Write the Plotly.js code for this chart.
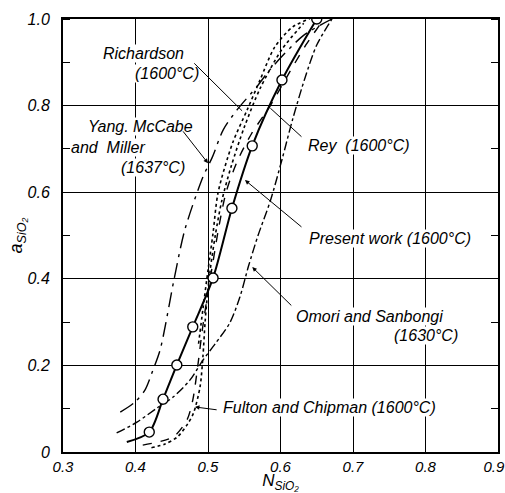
<!DOCTYPE html>
<html><head><meta charset="utf-8">
<script src="https://cdn.plot.ly/plotly-3.0.1.min.js"></script>
<style>body{margin:0;background:#fff}#c{width:505px;height:493px}</style>
</head><body><div id="c"></div>
<script>
// Present work (1600°C): measured points (circles) and the drawn curve
const presentX = [0.419, 0.438, 0.457, 0.479, 0.507, 0.533, 0.561, 0.602, 0.650];
const presentY = [0.046, 0.122, 0.201, 0.289, 0.402, 0.563, 0.707, 0.859, 1.000];
const presentLineX = [0.388, 0.419, 0.438, 0.457, 0.479, 0.507, 0.533, 0.561, 0.602, 0.650];
const presentLineY = [0.023, 0.046, 0.122, 0.201, 0.289, 0.402, 0.563, 0.707, 0.859, 1.000];
// Yang, McCabe and Miller (1637°C)
const yangX = [0.379, 0.399, 0.413, 0.424, 0.434, 0.453, 0.468, 0.493, 0.506, 0.521, 0.540, 0.568, 0.585, 0.631, 0.671];
const yangY = [0.092, 0.115, 0.143, 0.189, 0.236, 0.397, 0.513, 0.635, 0.681, 0.744, 0.790, 0.845, 0.882, 0.961, 1.000];
// Omori and Sanbongi (1630°C)
const omoriX = [0.374, 0.402, 0.430, 0.452, 0.475, 0.493, 0.510, 0.530, 0.544, 0.556, 0.569, 0.586, 0.602, 0.617, 0.634, 0.650, 0.671];
const omoriY = [0.044, 0.069, 0.102, 0.127, 0.166, 0.212, 0.250, 0.298, 0.358, 0.430, 0.500, 0.580, 0.675, 0.770, 0.865, 0.940, 1.000];
// Richardson (1600°C)
const richX = [0.487, 0.493, 0.500, 0.507, 0.514, 0.534, 0.554, 0.572, 0.592, 0.617, 0.640];
const richY = [0.250, 0.330, 0.420, 0.506, 0.600, 0.714, 0.790, 0.860, 0.935, 0.982, 1.000];
// Fulton and Chipman (1600°C)
const fultonX = [0.422, 0.440, 0.458, 0.472, 0.480, 0.489, 0.493, 0.496, 0.499, 0.503, 0.510, 0.519, 0.532, 0.550, 0.572, 0.602, 0.632];
const fultonY = [0.010, 0.018, 0.035, 0.065, 0.090, 0.150, 0.220, 0.300, 0.360, 0.420, 0.500, 0.580, 0.660, 0.750, 0.840, 0.930, 0.990];
// Rey (1600°C)
const reyX = [0.410, 0.452, 0.471, 0.479, 0.486, 0.492, 0.500, 0.507, 0.515, 0.525, 0.540, 0.560, 0.586, 0.610, 0.635, 0.660];
const reyY = [0.016, 0.035, 0.074, 0.120, 0.200, 0.280, 0.370, 0.440, 0.520, 0.600, 0.670, 0.735, 0.800, 0.870, 0.940, 1.000];

const xTicks = [0.3, 0.4, 0.5, 0.6, 0.7, 0.8, 0.9];
const xTickText = ['0.3', '0.4', '0.5', '0.6', '0.7', '0.8', '0.9\u00a0\u00a0'];
const yTicks = [0, 0.2, 0.4, 0.6, 0.8, 1.0];
const yTickText = ['0', '0.2', '0.4', '0.6', '0.8', '1.0'];

const FONT = 'Liberation Sans, Arial, sans-serif';
function line(x, y, dash, w) {
  return {x: x, y: y, type: 'scatter', mode: 'lines', hoverinfo: 'skip',
    line: {color: 'black', width: w, dash: dash, shape: 'spline', smoothing: 0.8}};
}
const traces = [
  line(yangX, yangY, 'longdashdot', 1.4),
  line(omoriX, omoriY, 'dashdot', 1.4),
  line(richX, richY, 'dot', 1.6),
  line(fultonX, fultonY, 'dot', 1.6),
  line(reyX, reyY, 'dash', 1.4),
  line(presentLineX, presentLineY, 'solid', 2),
  {x: presentX, y: presentY, type: 'scatter', mode: 'markers', hoverinfo: 'skip',
   marker: {symbol: 'circle', size: 10, color: 'white', line: {color: 'black', width: 1.4}}}
];

function label(text, x, y) {
  return {text: text, x: x, y: y, xref: 'x', yref: 'y', xanchor: 'left', yanchor: 'middle',
    showarrow: false, bgcolor: 'white', borderpad: 0,
    font: {family: FONT, size: 16, style: 'italic', color: 'black'}};
}
function pointer(x0, y0, x1, y1, head) {
  return {text: '', x: x1, y: y1, ax: x0, ay: y0, xref: 'x', yref: 'y', axref: 'x', ayref: 'y',
    showarrow: true, arrowhead: head ? 2 : 0, arrowsize: 0.9, arrowwidth: 1, arrowcolor: 'black', standoff: 0};
}
const annotations = [
  label('Richardson', 0.354, 0.921),
  label('(1600°C)', 0.398, 0.875),
  label('Yang. McCabe', 0.333, 0.751),
  label('and  Miller', 0.310, 0.704),
  label('(1637°C)', 0.379, 0.656),
  label('Rey  (1600°C)', 0.637, 0.709),
  label('Present work (1600°C)', 0.638, 0.494),
  label('Omori and Sanbongi', 0.620, 0.312),
  label('(1630°C)', 0.755, 0.270),
  label('Fulton and Chipman (1600°C)', 0.519, 0.102),
  pointer(0.479, 0.901, 0.547, 0.788, false),
  pointer(0.464, 0.744, 0.500, 0.667, true),
  pointer(0.631, 0.725, 0.586, 0.794, false),
  pointer(0.631, 0.517, 0.551, 0.628, true),
  pointer(0.617, 0.335, 0.561, 0.427, true),
  pointer(0.514, 0.097, 0.482, 0.104, true)
];

const tickFont = {family: FONT, size: 15, style: 'italic', color: 'black'};
const layout = {
  width: 505, height: 493,
  margin: {l: 63, r: 7, t: 19, b: 41},
  paper_bgcolor: 'white', plot_bgcolor: 'white',
  showlegend: false,
  xaxis: {range: [0.3, 0.9], tickvals: xTicks, ticktext: xTickText, ticks: '',
    showgrid: true, gridcolor: 'black', gridwidth: 1, zeroline: false,
    showline: true, linecolor: 'black', linewidth: 2, mirror: true,
    tickfont: tickFont, ticklabelstandoff: 0, ticklabeloverflow: 'allow',
    title: {text: 'N<sub>SiO₂</sub>', font: {family: FONT, size: 17, style: 'italic', color: 'black'}, standoff: 1}},
  yaxis: {range: [0, 1.0], tickvals: yTicks, ticktext: yTickText, ticks: '',
    showgrid: true, gridcolor: 'black', gridwidth: 1, zeroline: false,
    showline: true, linecolor: 'black', linewidth: 2, mirror: 'ticks',
    minor: {dtick: 0.1, tick0: 0.1, ticks: 'inside', ticklen: 7, tickcolor: 'black', tickwidth: 1, showgrid: false},
    tickfont: {family: FONT, size: 16, style: 'italic', color: 'black'}, ticklabelstandoff: 8,
    title: {text: 'a<sub>SiO₂</sub>', font: {family: FONT, size: 18, style: 'italic', color: 'black'}, standoff: 0}},
  annotations: annotations
};
Plotly.newPlot('c', traces, layout, {staticPlot: true});
</script></body></html>
